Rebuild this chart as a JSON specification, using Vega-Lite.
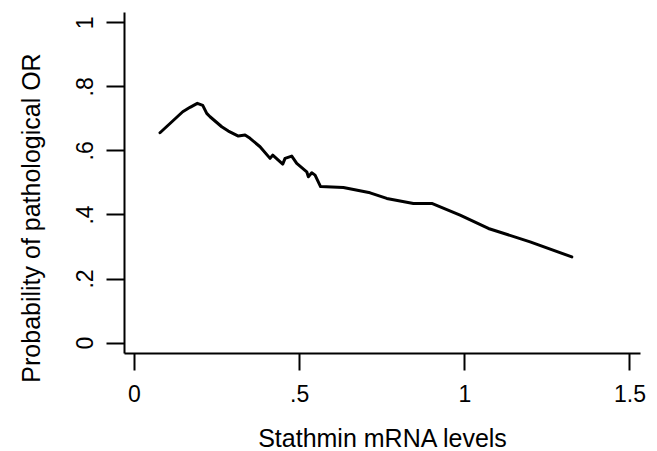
{
  "$schema": "https://vega.github.io/schema/vega-lite/v6.json",
  "width": 516,
  "height": 341,
  "autosize": "none",
  "padding": {"left": 124, "top": 12, "right": 17, "bottom": 98},
  "background": "white",
  "config": {
    "view": {"stroke": null},
    "font": "Liberation Sans",
    "axis": {
      "grid": false,
      "domainColor": "black",
      "domainWidth": 2,
      "tickColor": "black",
      "tickWidth": 2,
      "labelColor": "black",
      "titleColor": "black",
      "labelFont": "Liberation Sans",
      "titleFont": "Liberation Sans",
      "labelFontSize": 23,
      "titleFontSize": 25,
      "titleFontWeight": "normal"
    }
  },
  "data": {
    "values": [
      {"x": 0.0787, "y": 0.655},
      {"x": 0.1475, "y": 0.7206},
      {"x": 0.1696, "y": 0.7344},
      {"x": 0.1917, "y": 0.7469},
      {"x": 0.2081, "y": 0.7406},
      {"x": 0.2202, "y": 0.7156},
      {"x": 0.2302, "y": 0.705},
      {"x": 0.2656, "y": 0.6738},
      {"x": 0.2856, "y": 0.6603},
      {"x": 0.3159, "y": 0.6447},
      {"x": 0.3362, "y": 0.6478},
      {"x": 0.3513, "y": 0.6375},
      {"x": 0.3816, "y": 0.6113},
      {"x": 0.4119, "y": 0.575},
      {"x": 0.42, "y": 0.5853},
      {"x": 0.4503, "y": 0.5572},
      {"x": 0.4573, "y": 0.575},
      {"x": 0.4776, "y": 0.5822},
      {"x": 0.4927, "y": 0.5594},
      {"x": 0.523, "y": 0.5331},
      {"x": 0.5279, "y": 0.5175},
      {"x": 0.5382, "y": 0.53},
      {"x": 0.5482, "y": 0.5228},
      {"x": 0.5648, "y": 0.4869},
      {"x": 0.6339, "y": 0.4844},
      {"x": 0.7147, "y": 0.4675},
      {"x": 0.7653, "y": 0.45},
      {"x": 0.8459, "y": 0.4344},
      {"x": 0.9016, "y": 0.4344},
      {"x": 0.9873, "y": 0.3978},
      {"x": 1.073, "y": 0.3563},
      {"x": 1.1993, "y": 0.3144},
      {"x": 1.3256, "y": 0.2675}
    ]
  },
  "mark": {"type": "line", "color": "black", "strokeWidth": 3, "strokeJoin": "round", "strokeCap": "round"},
  "encoding": {
    "x": {
      "field": "x",
      "type": "quantitative",
      "scale": {"domain": [-0.0303, 1.532], "nice": false, "zero": false},
      "axis": {
        "values": [0, 0.5, 1, 1.5],
        "title": "Stathmin mRNA levels",
        "tickSize": 17,
        "labelPadding": 31,
        "labelBaseline": "alphabetic",
        "labelExpr": "datum.value > 0 && datum.value < 1 ? '.' + format(datum.value * 10, 'd') : format(datum.value, '~g')",
        "titleBaseline": "alphabetic",
        "titleY": 93,
        "titleAnchor": "middle"
      }
    },
    "y": {
      "field": "y",
      "type": "quantitative",
      "scale": {"domain": [-0.0325, 1.032], "nice": false, "zero": false},
      "axis": {
        "values": [0, 0.2, 0.4, 0.6, 0.8, 1],
        "title": "Probability of pathological OR",
        "tickSize": 18,
        "labelAngle": 270,
        "labelAlign": "center",
        "labelBaseline": "alphabetic",
        "labelPadding": 13.5,
        "labelExpr": "datum.value > 0 && datum.value < 1 ? '.' + format(datum.value * 10, 'd') : format(datum.value, '~g')",
        "titleAngle": 270,
        "titleBaseline": "alphabetic",
        "titleAlign": "center",
        "titleX": -85,
        "titleY": 205.5
      }
    }
  }
}
